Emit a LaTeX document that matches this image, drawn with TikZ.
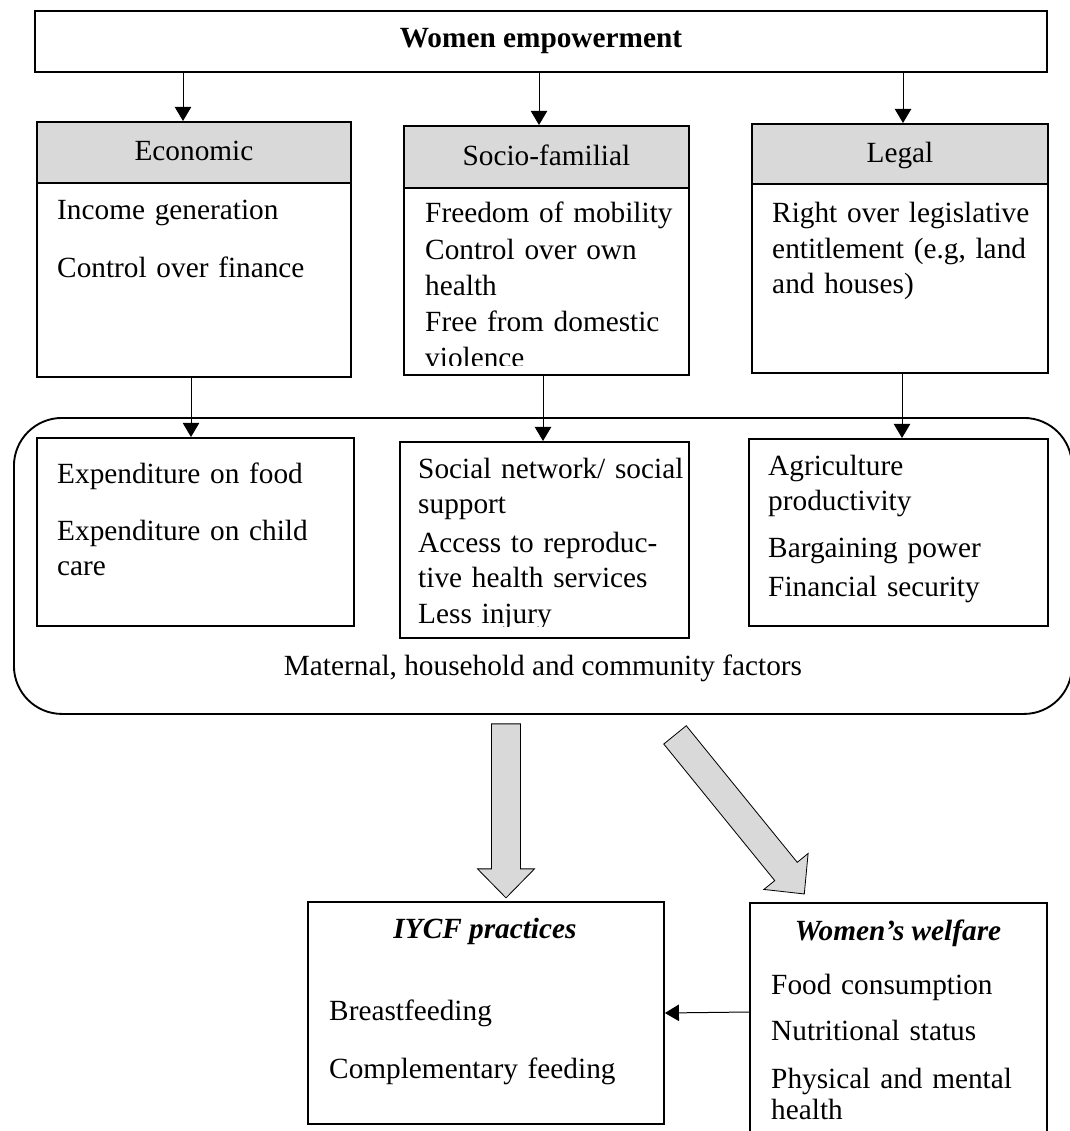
\documentclass[tikz,border=0pt]{standalone}
\usepackage{fontspec}
\setmainfont{Liberation Serif}
\usetikzlibrary{arrows.meta,calc}

\newcommand{\px}{0.03cm}
\tikzstyle{panel}=[draw, line width=1.6pt, anchor=north west, inner sep=0pt]
\tikzstyle{panelhead}=[panel, fill=black!15, text height=19.5pt, text depth=5pt,
  font=\fontsize{25}{30}\selectfont]
\tikzstyle{items}=[anchor=base west, align=left, inner sep=0pt, text width=9cm,
  font=\fontsize{25}{30}\selectfont]
\tikzstyle{caption}=[anchor=base, inner sep=0pt, font=\fontsize{25}{30}\selectfont]
\tikzstyle{title}=[caption, font=\bfseries\itshape\fontsize{25}{30}\selectfont]
\tikzstyle{line}=[draw, line width=0.85pt, -{Triangle[width=14pt,length=12pt]}]
\tikzstyle{bigarrow}=[draw, line width=0.7pt, fill=black!15, line join=miter]
\newcommand{\boxnode}[3]{node (#1) [panel, minimum width=#2*\px,
  minimum height=#3*\px] {}}
\newcommand{\headnode}[4]{node (#1) [panelhead, minimum width=#2*\px,
  minimum height=#3*\px] {#4}}
\newcommand{\bigarrow}[3]{%
  \path [bigarrow, shift={(#1)}, rotate=#2]
    (0,-14.5) -- (#3-29,-14.5) -- (#3-29,-28.5) -- (#3,0)
    -- (#3-29,28.5) -- (#3-29,14.5) -- (0,14.5) -- cycle;}

\begin{document}
\begin{tikzpicture}[x=\px, y=-\px]
\useasboundingbox (0,0) rectangle (1069,1131);

% Draw diagram elements
\path (34,10) node (top) [panel, minimum width=1012*\px, minimum height=61*\px,
  text height=16pt, text depth=5pt,
  font=\bfseries\fontsize{25}{30}\selectfont] {Women empowerment};

\path (36,121) \headnode{h1}{314}{61}{Economic};
\path (36,182) \boxnode{b1}{314}{194};
\path (403,125) \headnode{h2}{285}{62}{Socio-familial};
\path (403,187) \boxnode{b2}{285}{187};
\path (751,123) \headnode{h3}{296}{60}{Legal};
\path (751,183) \boxnode{b3}{296}{189};

\path (57,220) node (t1) [items] {Income generation\\[19.5pt]Control over finance};
\begin{scope}
  \clip (b2.north west) rectangle ($(b2.south east)+(0,-10)$);
  \path (425,223) node (t2) [items] {Freedom of mobility\\[1.5pt]Control over own\\
    health\\[1.5pt]Free from domestic\\violence};
\end{scope}
\path (772,223) node (t3) [items] {Right over legislative\\entitlement (e.g, land\\
  and houses)};

% Maternal, household and community factors
\path (13,417) node (fac) [panel, rounded corners=1.44cm, minimum width=1058*\px,
  minimum height=296*\px] {};
\path (36,437) \boxnode{c1}{317}{188};
\path (399,441) \boxnode{c2}{289}{196};
\path (748,438) \boxnode{c3}{299}{187};

\path (57,483) node (u1) [items] {Expenditure on food\\[18.7pt]Expenditure on child\\care};
\begin{scope}
  \clip (c2.north west) rectangle ($(c2.south east)+(0,-12)$);
  \path (418,478) node (u2) [items] {Social network/ social\\support\\[3.3pt]
    Access to reproduc-\\tive health services\\[0.8pt]Less injury};
\end{scope}
\path (768,475) node (u3) [items] {Agriculture\\productivity\\[10pt]Bargaining power\\[3.3pt]
  Financial security};
\path (543,675) node (fl) [caption] {Maternal, household and community factors};

% Outcomes
\path (307,901) \boxnode{i1}{356}{222};
\path (485,938) node (it) [title] {IYCF practices};
\path (329,1020) node (il) [items] {Breastfeeding\\[19.5pt]Complementary feeding};

\path (749,902) \boxnode{w1}{297}{250};
\path (898,940) node (wt) [title] {Women’s welfare};
\path (771,994) node (wl) [items] {Food consumption\\[9.3pt]Nutritional status\\[11pt]
  Physical and mental\\[-3.5pt]health};

% Draw arrows between elements
\path [line] (183,0 |- top.south) -- (183,0 |- h1.north);
\path [line] (539,0 |- top.south) -- (539,0 |- h2.north);
\path [line] (903,0 |- top.south) -- (903,0 |- h3.north);

\path [line] (191,0 |- b1.south) -- (191,0 |- c1.north);
\path [line] (543,0 |- b2.south) -- (543,0 |- c2.north);
\path [line] (902,0 |- b3.south) -- (902,0 |- c3.north);

\path [line] (w1.west |- 0,1012) -- (i1.east |- 0,1013);

% Wide arrows out of the factors box
\coordinate (a1) at ($(fac.south -| 506,0)+(0,9)$);
\coordinate (a2) at ($(fac.south -| 675,0)+(0,20)$);
\bigarrow{a1}{-90}{174}
\bigarrow{a2}{-50.9}{205}
\end{tikzpicture}
\end{document}
